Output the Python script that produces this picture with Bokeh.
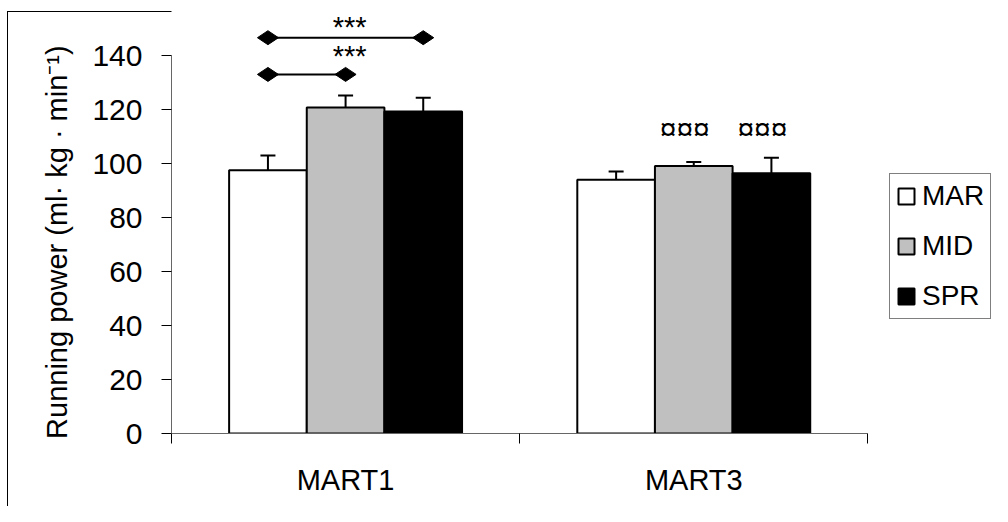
import math
from bokeh.plotting import figure
from bokeh.models import (Range1d, FixedTicker, ColumnDataSource, Whisker, TeeHead,
                          Legend, LegendItem)
from bokeh.core.properties import value
from bokeh.embed import file_html
from bokeh.resources import INLINE

# ---------------- data ----------------
categories = ["MART1", "MART3"]
groups = ["MAR", "MID", "SPR"]
mar = [97.5, 94.0]
mar_err = [5.5, 3.0]
mid = [120.7, 99.1]
mid_err = [4.5, 1.5]
spr = [119.3, 96.4]
spr_err = [5.1, 5.7]
y_ticks = [0, 20, 40, 60, 80, 100, 120, 140]
y_label = "Running power (ml\u00b7 kg \u00b7 min\u207b\u00b9)"

# significance annotations
bracket_pairs = [("MAR", "SPR"), ("MAR", "MID")]   # within MART1
bracket_levels = [146.6, 133.0]
bracket_text = ["***", "***"]
bracket_text_levels = [150.4, 140.0]
mart3_marks = ["\u00a4\u00a4\u00a4", "\u00a4\u00a4\u00a4"]
mart3_mark_groups = ["MID", "SPR"]
mart3_mark_level = 113.0

series = {"MAR": (mar, mar_err), "MID": (mid, mid_err), "SPR": (spr, spr_err)}
fills = {"MAR": "white", "MID": "#C0C0C0", "SPR": "black"}
offsets = {"MAR": -0.223, "MID": 0.0, "SPR": 0.223}
bar_w = 0.223
FONT = "Liberation Sans"

p = figure(width=992, height=506, output_backend="svg", toolbar_location=None,
           x_range=Range1d(0, 2.358), y_range=Range1d(0, 156.67),
           min_border_left=171, min_border_right=0, min_border_top=10,
           min_border_bottom=73, background_fill_color="white",
           border_fill_color=None)
p.outline_line_color = None
p.xgrid.visible = False
p.ygrid.visible = False
p.styles = {
    "background-color": "white",
    "background-image": "linear-gradient(black, black), linear-gradient(black, black)",
    "background-size": "1px 100%, 100% 1px",
    "background-position": "7px 11px, 7px 11px",
    "background-repeat": "no-repeat",
}

# axes
xa = p.xaxis[0]
xa.ticker = FixedTicker(ticks=[i + 0.5 for i in range(len(categories))],
                        minor_ticks=list(range(len(categories) + 1)))
xa.bounds = (0, len(categories))
xa.major_label_overrides = {i + 0.5: c for i, c in enumerate(categories)}
xa.major_tick_out = 0
xa.major_tick_in = 0
xa.minor_tick_out = 10
xa.minor_tick_in = 0
xa.minor_tick_line_color = "black"
xa.axis_line_color = "#666666"
xa.major_label_text_font = FONT
xa.major_label_text_font_size = "29px"
xa.major_label_text_color = "black"
xa.major_label_standoff = 20

ya = p.yaxis[0]
ya.ticker = FixedTicker(ticks=y_ticks, minor_ticks=[])
ya.bounds = (0, 140)
ya.major_tick_out = 10
ya.major_tick_in = 0
ya.major_tick_line_color = "black"
ya.axis_line_color = "#666666"
ya.major_label_text_font = FONT
ya.major_label_text_font_size = "30px"
ya.major_label_text_color = "black"
ya.major_label_standoff = 19
ya.axis_label = y_label + "\u00a0" * 5
ya.axis_label_text_font = FONT
ya.axis_label_text_font_size = "29px"
ya.axis_label_text_font_style = "normal"
ya.axis_label_text_color = "black"
ya.axis_label_standoff = 16

# bars + error bars
items = []
for g in groups:
    vals, errs = series[g]
    xs = [i + 0.5 + offsets[g] for i in range(len(categories))]
    src = ColumnDataSource(dict(x=xs, top=vals, up=[v + e for v, e in zip(vals, errs)]))
    r = p.vbar(x="x", top="top", bottom=0, width=bar_w, source=src,
               fill_color=fills[g], line_color="black", line_width=2)
    items.append(LegendItem(label=g, renderers=[r]))
    w = Whisker(base="x", lower="top", upper="up", source=src, level="overlay",
                line_color="black", line_width=2,
                upper_head=TeeHead(size=15, line_color="black", line_width=2),
                lower_head=None)
    p.add_layout(w)

# significance brackets in MART1
for (a, b), lvl in zip(bracket_pairs, bracket_levels):
    xa_ = 0.5 + offsets[a]
    xb_ = 0.5 + offsets[b]
    p.segment(x0=[xa_], y0=[lvl], x1=[xb_], y1=[lvl], line_color="black", line_width=2)
    p.scatter(x=[xa_, xb_], y=[lvl, lvl], marker="diamond", size=21,
              angle=math.pi / 2, fill_color="black", line_color="black")
p.text(x=[0.5] * len(bracket_text), y=bracket_text_levels, text=bracket_text,
       x_offset=4, text_align="center", text_baseline="alphabetic",
       text_font=value(FONT), text_font_size="29px", text_color="black")

# marks over MART3
p.text(x=[1.5 + offsets[g] for g in mart3_mark_groups],
       y=[mart3_mark_level] * len(mart3_marks), text=mart3_marks,
       x_offset=-9, text_align="center", text_baseline="alphabetic",
       text_font=value(FONT), text_font_size="30px", text_color="black")

legend = Legend(items=items, location=(718, 114), orientation="vertical",
                border_line_color="black", border_line_width=1,
                background_fill_color="white", background_fill_alpha=1,
                label_text_font=FONT, label_text_font_size="28px",
                label_text_color="black", glyph_width=20, glyph_height=20,
                label_standoff=6, padding=6, spacing=18, margin=0,
                label_height=30)
p.add_layout(legend)

open("out.html", "w").write(file_html(p, INLINE))
